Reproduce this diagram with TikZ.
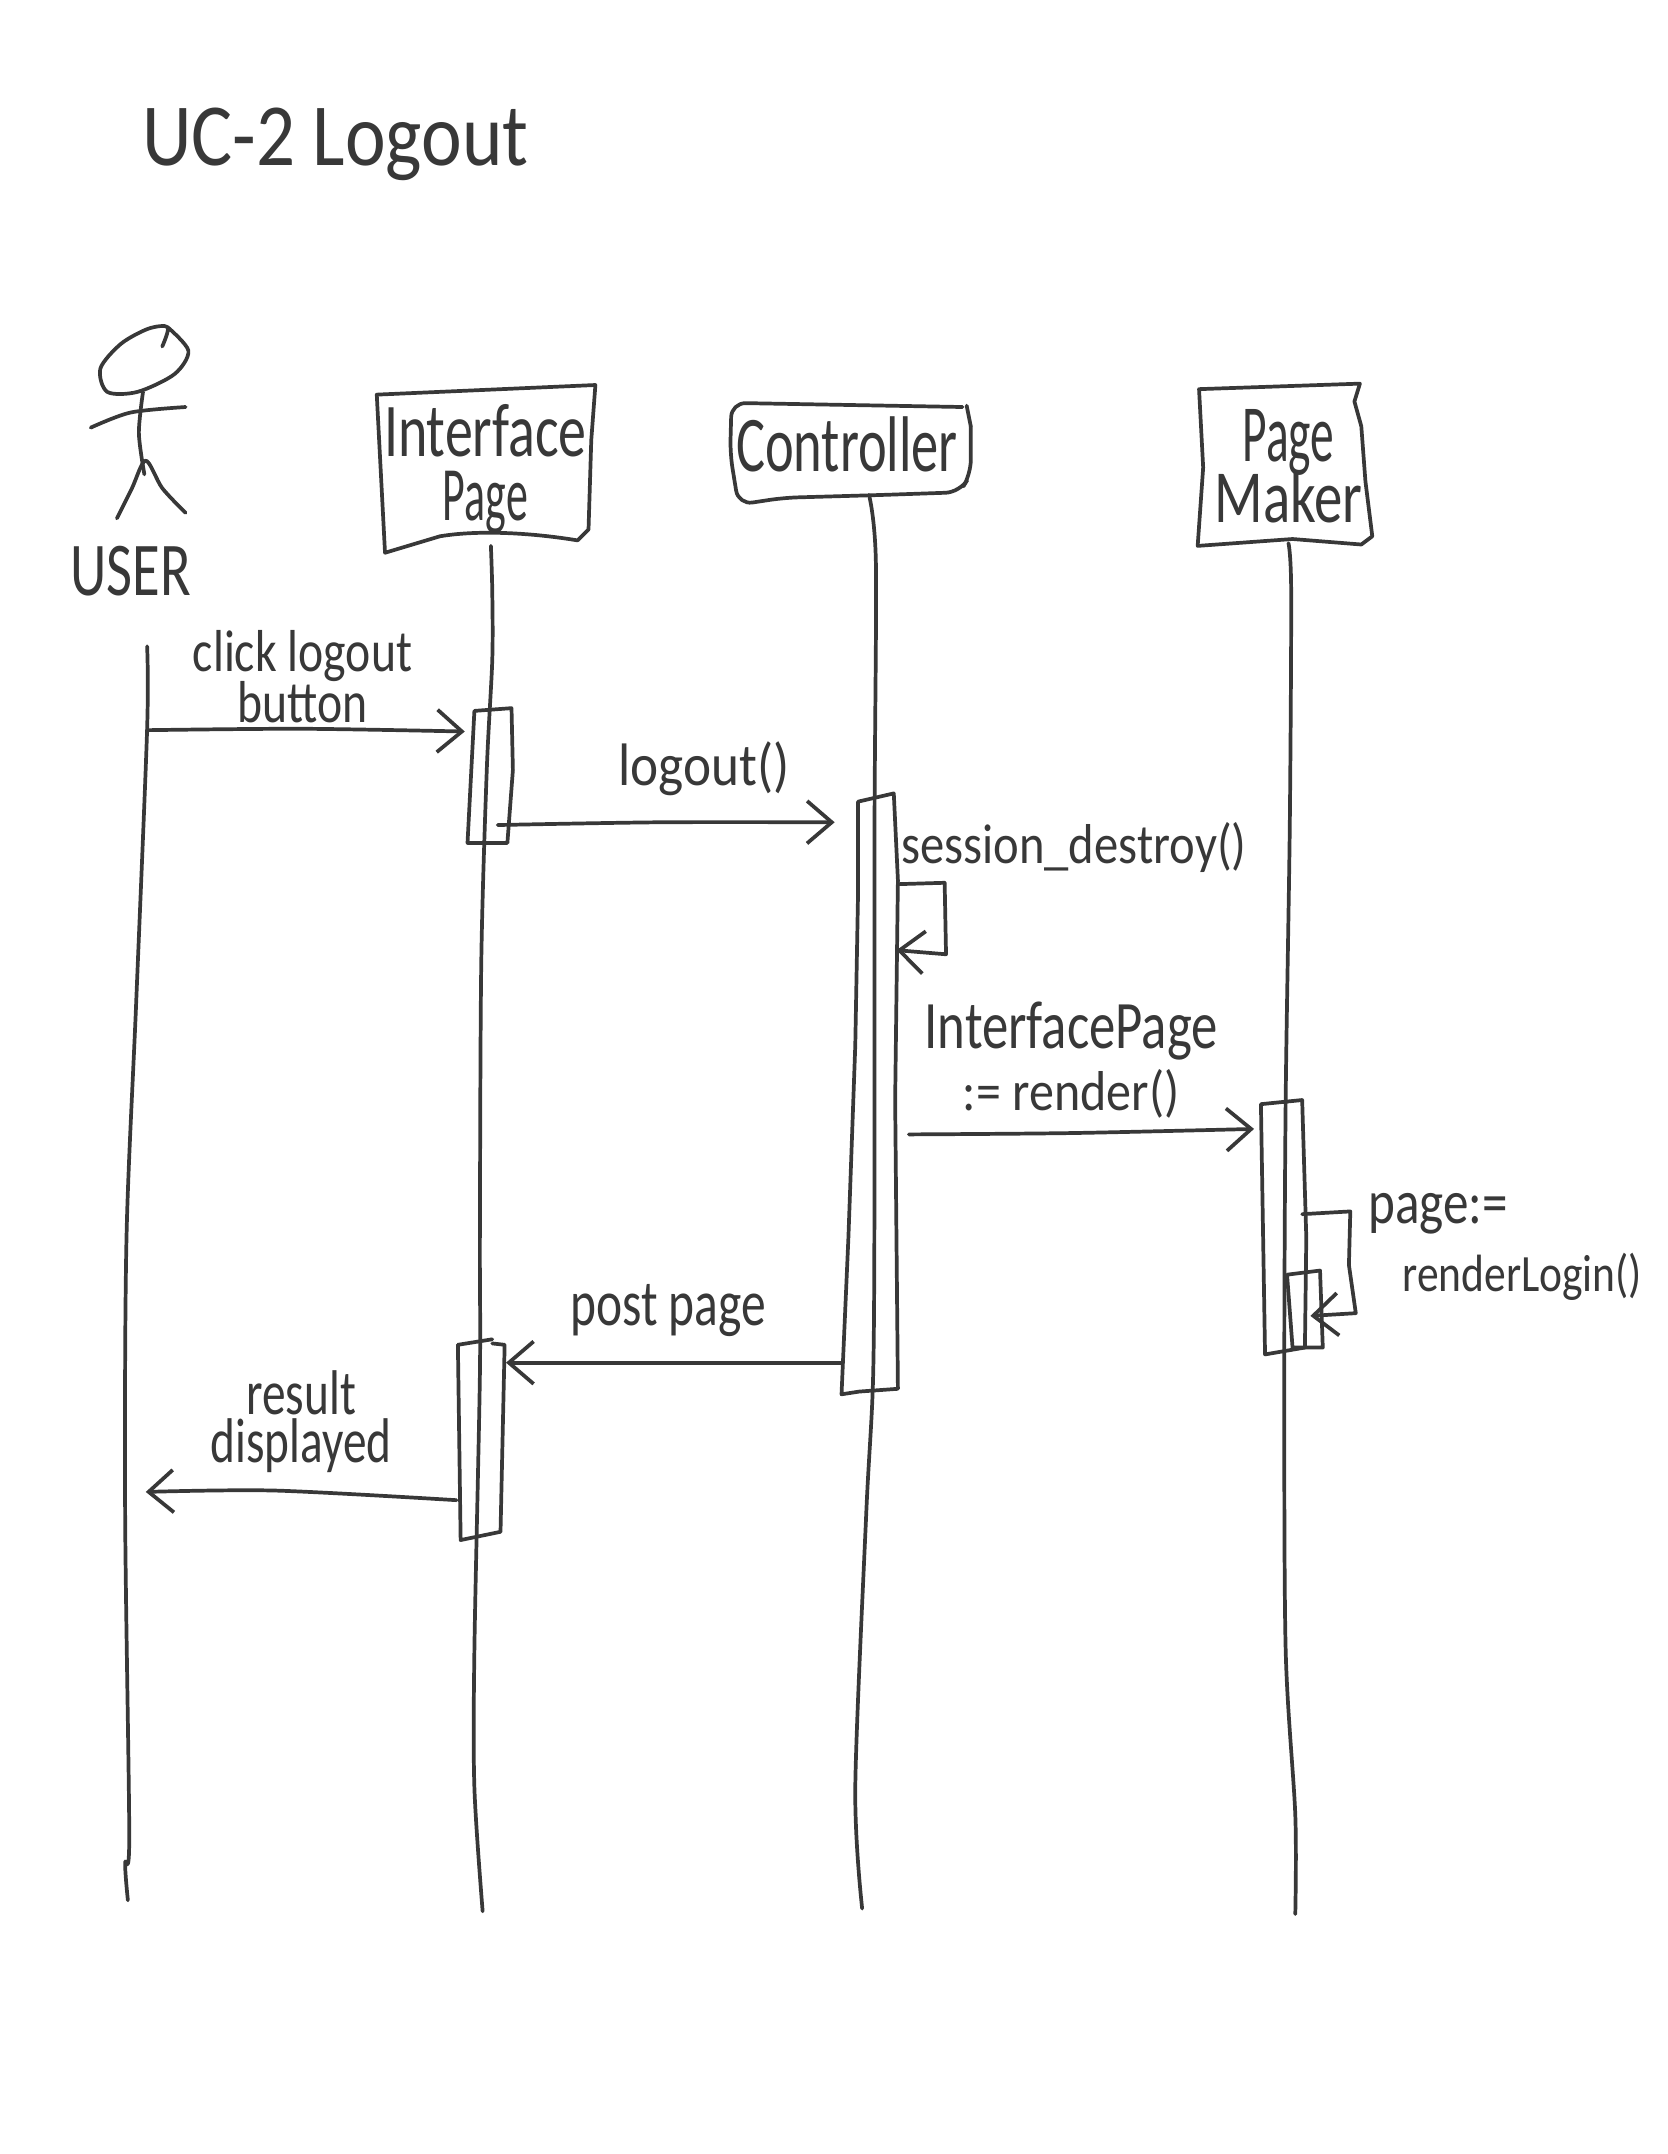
\documentclass[tikz,border=0pt]{standalone}
\usepackage{fontspec}
\usepackage{graphicx}
\setmainfont{Carlito}
\usetikzlibrary{arrows.meta}
\definecolor{inkc}{HTML}{383838}
\newdimen\U \U=0.3875pt
\newcommand\fitt[3]{\resizebox{#1\U}{#2\U}{#3}}
\newcommand\hw[1]{\fontsize{14}{#1\U}\selectfont\lineskiplimit=-100pt\relax}
\tikzset{
  ink/.style={draw=inkc,line width=1.05pt,line cap=round,line join=round},
  msg/.style={ink,-{Straight Barb[length=7pt,width=12pt,line width=1.05pt]}},
  hand/.style={text=inkc,inner sep=0pt,outer sep=0pt,align=center},
  handl/.style={text=inkc,inner sep=0pt,outer sep=0pt,align=left},
}
\begin{document}
\begin{tikzpicture}[x=0.01367cm,y=-0.01367cm]
\useasboundingbox (0,0) rectangle (1213,1566.5);
\fill[white] (0,0) rectangle (1213,1566.5);

% title and actor
\node[hand,font=\hw{40}] (title) at (244,105) {\fitt{282}{42}{UC-2 Logout}};
\draw[ink] plot[smooth] coordinates {(122,238) (137,255) (127,272) (100,285) (78,285) (73,268) (88,250) (108,239) (122,238) (118,252)};
\coordinate (neck) at (104,285);
\coordinate (hip) at (105,345);
\draw[ink] plot[smooth] coordinates {(neck) (101,315) (hip)};
\draw[ink] plot[smooth] coordinates {(66,311) (95,300) (135,296)};
\draw[ink] plot[smooth] coordinates {(85,377) (96,355) (106,335) (118,355) (135,373)};
\node[hand,font=\hw{40}] (user) at (95,415) {\fitt{88}{36}{USER}};

% heads
\node[hand,font=\hw{47}] (ipHead) at (353,341) {\fitt{148}{38}{Interface}\\\fitt{62}{36}{Page}};
\draw[ink] (274,287) -- (433,280) -- (430,320) -- (428,385) -- (420,393)
  .. controls (390,388) and (350,385) .. (320,390) -- (280,402) -- cycle;
\node[hand,font=\hw{40}] (cHead) at (616,323) {\fitt{162}{40}{Controller}};
\draw[ink,rounded corners=4pt] (700,296) -- (532,293) -- (531,330) -- (537,367) -- (570,362) -- (640,360) -- (698,358) -- (706,345) -- (706,310);
\draw[ink] (703,295) -- (706,310);
\node[hand,font=\hw{44.5}] (pHead) at (937,339) {\fitt{67}{38}{Page}\\\fitt{108}{38}{Maker}};
\draw[ink] (872,283) -- (989,279) -- (985,292) -- (990,310) -- (993,350) -- (998,390) -- (990,396) -- (940,392) -- (871,397) -- (875,340) -- cycle;

% lifelines
\coordinate (uTop) at (107,470); \coordinate (uEnd) at (93,1382);
\coordinate (iTop) at (357,397); \coordinate (iEnd) at (351,1390);
\coordinate (cTop) at (632,360); \coordinate (cEnd) at (627,1388);
\coordinate (pTop) at (937,395); \coordinate (pEnd) at (942,1392);
\draw[ink] plot[smooth] coordinates {(uTop) (107,530) (99,730) (92,900) (91,1100) (94,1335) (91,1355) (uEnd)};
\draw[ink] plot[smooth] coordinates {(iTop) (358,430) (358,480) (354,560) (350,700) (349,900) (349,1000) (345,1200) (345,1300) (iEnd)};
\draw[ink] plot[smooth] coordinates {(cTop) (637,410) (636,600) (636,850) (635,1000) (630,1100) (622,1300) (cEnd)};
\draw[ink] plot[smooth] coordinates {(pTop) (939,430) (938,600) (935,800) (934,1000) (935,1200) (942,1320) (pEnd)};

% activation bars
\draw[ink] (345,517) -- (372,515) -- (373,560) -- (369,613) -- (340,613) -- cycle;
\draw[ink] (624,583) -- (650,577) -- (653,640) -- (651,800) -- (653,1010) -- (625,1012) -- (612,1014) -- (617,900) -- (622,760) -- (624,650) -- cycle;
\draw[ink] (917,803) -- (947,800) -- (950,900) -- (949,980) -- (920,985) -- cycle;
\draw[ink] (936,927) -- (960,924) -- (962,980) -- (940,980) -- cycle;
\draw[ink] (333,978) -- (358,974);
\draw[ink] (358,977) -- (367,978) -- (364,1114) -- (335,1120) -- (333,978);

% message ends
\coordinate (m1a) at (108,531);  \coordinate (m1b) at (338,532);
\coordinate (m2a) at (362,600);  \coordinate (m2b) at (607,598);
\coordinate (m3a) at (653,643);  \coordinate (m3b) at (652,691);
\coordinate (m4a) at (661,825);  \coordinate (m4b) at (912,821);
\coordinate (m5a) at (947,883);  \coordinate (m5b) at (953,957);
\coordinate (m6a) at (612,991);  \coordinate (m6b) at (368,991);
\coordinate (m7a) at (332,1091); \coordinate (m7b) at (106,1085);

\draw[msg] plot[smooth] coordinates {(m1a) (220,530) (m1b)};
\draw[msg] plot[smooth] coordinates {(m2a) (480,598) (m2b)};
\draw[msg] (m3a) -- (687,642) -- (688,694) -- (m3b);
\draw[msg] plot[smooth] coordinates {(m4a) (780,824) (m4b)};
\draw[msg] (m5a) -- (982,881) -- (981,920) -- (986,955) -- (m5b);
\draw[msg] plot[smooth] coordinates {(m6a) (500,991) (m6b)};
\draw[msg] plot[smooth] coordinates {(m7a) (200,1084) (m7b)};

% message labels
\node[hand,font=\hw{37}] (l1) at (220,492) {\fitt{160}{30}{click logout}\\\fitt{95}{30}{button}};
\node[hand,font=\hw{40}] (l2) at (512,559) {\fitt{125}{32}{logout()}};
\node[hand,font=\hw{40}] (l3) at (781,616) {\fitt{252}{30}{session\_destroy()}};
\node[hand,font=\hw{45.5}] (l4) at (779,771) {\fitt{214}{34}{InterfacePage}\\\fitt{158}{30}{:= render()}};
\node[handl,anchor=west,font=\hw{50}] (l5) at (995,907) {\fitt{102}{22}{page:=}\\\hspace*{25\U}\fitt{175}{28}{renderLogin()}};
\node[hand,font=\hw{40}] (l6) at (486,953) {\fitt{143}{30}{post page}};
\node[hand,font=\hw{35}] (l7) at (219,1034) {\fitt{80}{32}{result}\\\fitt{132}{32}{displayed}};
\end{tikzpicture}
\end{document}
